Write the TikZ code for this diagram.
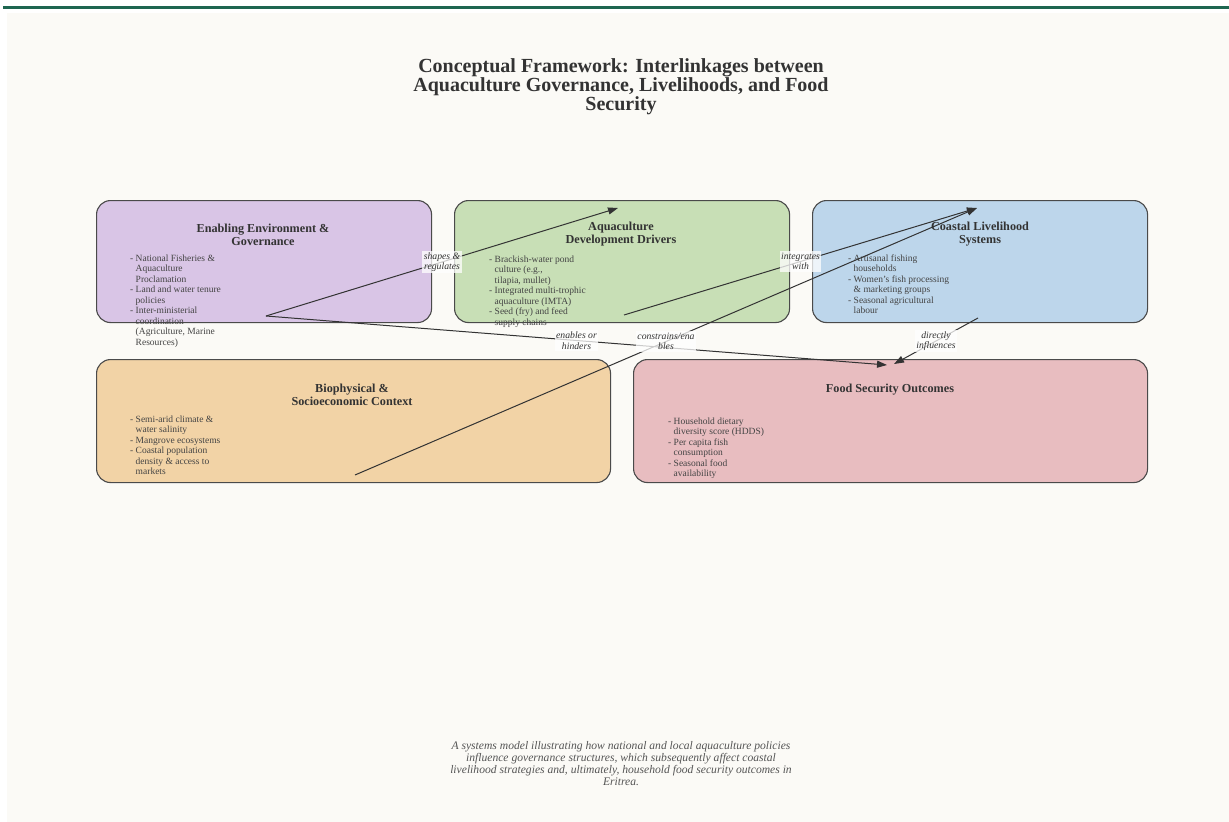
\documentclass[tikz,border=0pt]{standalone}
\usepackage{fontspec}
\setmainfont{Liberation Serif}
\usetikzlibrary{arrows.meta}
\definecolor{bar}{HTML}{1E6650}
\definecolor{bg}{HTML}{FBFAF6}
\definecolor{purp}{HTML}{D9C5E6}
\definecolor{grn}{HTML}{C8DFB6}
\definecolor{blu}{HTML}{BDD6EB}
\definecolor{org}{HTML}{F2D3A6}
\definecolor{pnk}{HTML}{E8BDC0}
\definecolor{edge}{HTML}{4A4A4A}
\definecolor{txt}{HTML}{333333}
\definecolor{bodytxt}{HTML}{444444}
\definecolor{capgray}{HTML}{555555}
\tikzset{
  panel/.style={draw=edge, line width=1.1pt, rounded corners=14pt, anchor=north west, inner sep=0pt},
  ptitle/.style={font=\bfseries\fontsize{12.2}{13}\selectfont, text=txt, align=center, inner sep=0pt},
  body/.style={font=\fontsize{9.5}{10.5}\selectfont, text=bodytxt, align=left, inner sep=0pt, anchor=north west},
  link/.style={draw=txt, line width=1pt, -{Triangle[length=10pt,width=7pt]}},
  lbl/.style={font=\itshape\fontsize{9.7}{10.5}\selectfont, text=txt, align=center, fill=white, fill opacity=0.75, text opacity=1, inner sep=1.5pt}
}
\newcommand{\ind}{\phantom{- }}
\begin{document}
\begin{tikzpicture}[x=1pt,y=-1pt]
\useasboundingbox (0,0) rectangle (1229,822);
\fill[white] (0,0) rectangle (1229,822);
\fill[bg] (7,13) rectangle (1229,822);
\fill[bar] (3,5.5) rectangle (1229,9);

\node[font=\bfseries\fontsize{20}{18}\selectfont, text=txt, align=center] (title) at (621,87)
  {Conceptual Framework: Interlinkages between\\Aquaculture Governance, Livelihoods, and Food\\Security};

% panels
\node[panel, fill=purp, minimum width=335pt, minimum height=122pt] (gov) at (96,200) {};
\node[panel, fill=grn, minimum width=335pt, minimum height=122pt] (drv) at (454,200) {};
\node[panel, fill=blu, minimum width=335pt, minimum height=122pt] (liv) at (812,200) {};
\node[panel, fill=org, minimum width=514pt, minimum height=123pt] (ctx) at (96,359) {};
\node[panel, fill=pnk, minimum width=514pt, minimum height=123pt] (food) at (633,359) {};

% panel titles
\node[ptitle] (gov-t) at (263,234.5) {Enabling Environment \&\\Governance};
\node[ptitle] (drv-t) at (621,234.5) {Aquaculture\\Development Drivers};
\node[ptitle] (liv-t) at (980,234.5) {Coastal Livelihood\\Systems};
\node[ptitle] (ctx-t) at (352,394.5) {Biophysical \&\\Socioeconomic Context};
\node[ptitle] (food-t) at (890,390) {Food Security Outcomes};

% panel bodies
\node[body] (gov-b) at (130,254.5) {- National Fisheries \&\\\ind Aquaculture\\\ind Proclamation\\- Land and water tenure\\\ind policies\\- Inter-ministerial\\\ind coordination\\\ind (Agriculture, Marine\\\ind Resources)};
\node[body] (drv-b) at (489,255.5) {- Brackish-water pond\\\ind culture (e.g.,\\\ind tilapia, mullet)\\- Integrated multi-trophic\\\ind aquaculture (IMTA)\\- Seed (fry) and feed\\\ind supply chains};
\node[body] (liv-b) at (848,254.5) {- Artisanal fishing\\\ind households\\- Women’s fish processing\\\ind \& marketing groups\\- Seasonal agricultural\\\ind labour};
\node[body] (ctx-b) at (130,415.5) {- Semi-arid climate \&\\\ind water salinity\\- Mangrove ecosystems\\- Coastal population\\\ind density \& access to\\\ind markets};
\node[body] (food-b) at (668,417.5) {- Household dietary\\\ind diversity score (HDDS)\\- Per capita fish\\\ind consumption\\- Seasonal food\\\ind availability};

% connector anchors
\coordinate (gov-out) at (266,316);
\coordinate (drv-in) at (618,208);
\coordinate (drv-out) at (624,315);
\coordinate (liv-in) at (977,208);
\coordinate (liv-out) at (978,318);
\coordinate (ctx-out) at (355,475);
\coordinate (food-in1) at (887,365);
\coordinate (food-in2) at (894,364);

% connectors
\draw[link] (gov-out) -- node[lbl] (l1) {shapes \&\\regulates} (drv-in);
\draw[link] (gov-out) -- node[lbl] (l2) {enables or\\hinders} (food-in1);
\draw[link] (drv-out) -- node[lbl] (l3) {integrates\\with} (liv-in);
\draw[link] (ctx-out) -- node[lbl] (l4) {constrains/ena\\bles} (liv-in);
\draw[link] (liv-out) -- node[lbl] (l5) {directly\\influences} (food-in2);

% caption
\node[font=\itshape\fontsize{11.6}{12}\selectfont, text=capgray, align=center] (cap) at (621,764)
  {A systems model illustrating how national and local aquaculture policies\\influence governance structures, which subsequently affect coastal\\livelihood strategies and, ultimately, household food security outcomes in\\Eritrea.};
\end{tikzpicture}
\end{document}
